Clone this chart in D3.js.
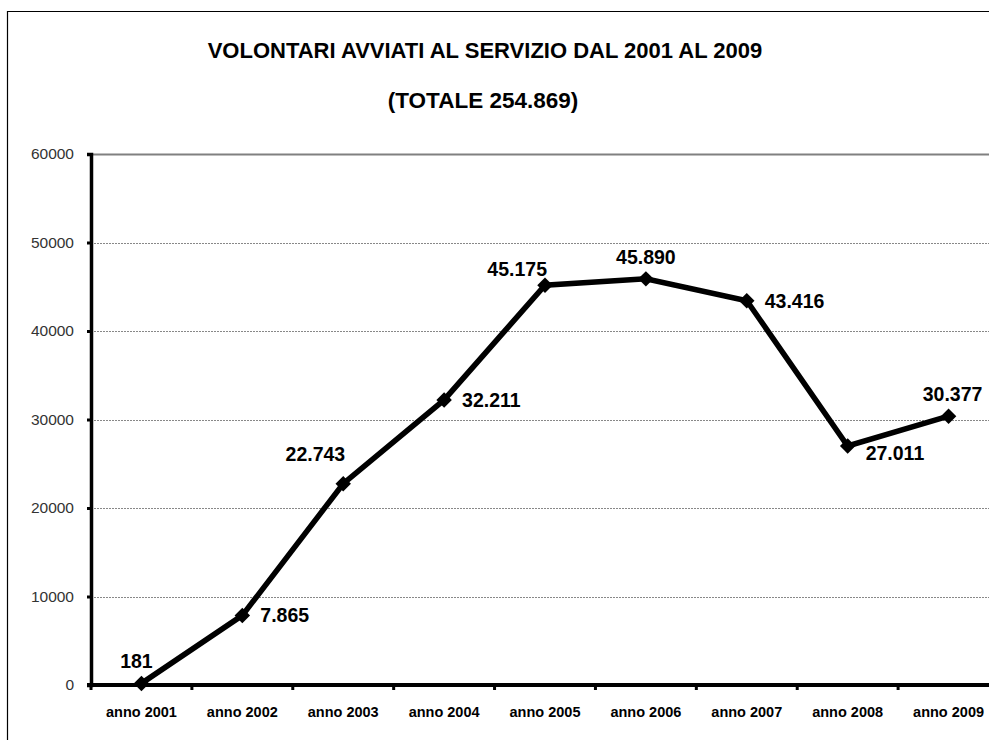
<!DOCTYPE html>
<html>
<head>
<meta charset="utf-8">
<script src="https://cdn.jsdelivr.net/npm/d3@7"></script>
<style>
  body { margin: 0; background: #fff; }
  svg { display: block; font-family: "Liberation Sans", Arial, sans-serif; }
</style>
</head>
<body>
<svg width="989" height="740"></svg>
<script>
// data
const years = ["anno 2001","anno 2002","anno 2003","anno 2004","anno 2005","anno 2006","anno 2007","anno 2008","anno 2009"];
const volontari = [181, 7865, 22743, 32211, 45175, 45890, 43416, 27011, 30377];
const valueLabels = ["181","7.865","22.743","32.211","45.175","45.890","43.416","27.011","30.377"];
const labelSide = ["above","right","aboveLeft","right","aboveLeft","above","right","belowRight","above"];
const yTicks = [0, 10000, 20000, 30000, 40000, 50000, 60000];
const title = "VOLONTARI AVVIATI AL SERVIZIO DAL 2001 AL 2009";
const subtitle = "(TOTALE 254.869)";

const svg = d3.select('svg');
const plot = {left: 91, right: 999, top: 154, bottom: 685};

// outer frame (only top and left visible in the crop)
svg.append('path')
  .attr('d', `M7.5,740 V11.5 H989`)
  .attr('fill', 'none').attr('stroke', '#000').attr('stroke-width', 1.2);

svg.append('text').attr('x', 485).attr('y', 58)
  .attr('text-anchor', 'middle').style('font-size', '22px').style('font-weight', 'bold')
  .text(title);
svg.append('text').attr('x', 483).attr('y', 108)
  .attr('text-anchor', 'middle').style('font-size', '22.5px').style('font-weight', 'bold')
  .text(subtitle);

const x = d3.scaleBand().domain(years).range([plot.left, plot.right]).padding(0);
const y = d3.scaleLinear().domain([0, 60000]).range([plot.bottom, plot.top]);
const cx = d => x(d) + x.bandwidth() / 2;

// gridlines
svg.append('g').selectAll('line')
  .data(yTicks.filter(t => t > 0))
  .join('line')
  .attr('x1', plot.left).attr('x2', 989)
  .attr('y1', d => Math.round(y(d)) + 0.5).attr('y2', d => Math.round(y(d)) + 0.5)
  .attr('stroke', d => d === 60000 ? '#808080' : '#888')
  .attr('stroke-width', d => d === 60000 ? 2 : 1)
  .attr('stroke-dasharray', d => d === 60000 ? null : '2,1');

// y axis
const yAxis = svg.append('g')
  .attr('transform', `translate(${plot.left},0)`)
  .call(d3.axisLeft(y).tickValues(yTicks).tickSize(4).tickPadding(13).tickFormat(d3.format('d')));
yAxis.select('.domain').attr('stroke', '#000').attr('stroke-width', 3.5);
yAxis.selectAll('.tick line').attr('stroke', '#000').attr('stroke-width', 3);
yAxis.selectAll('.tick text').style('font-size', '15.5px').style('font-family', '"Liberation Sans", Arial, sans-serif').attr('fill', '#333');

// x axis (ticks at category boundaries)
svg.append('line')
  .attr('x1', plot.left - 4).attr('x2', 989)
  .attr('y1', plot.bottom).attr('y2', plot.bottom)
  .attr('stroke', '#000').attr('stroke-width', 4);
svg.append('g').selectAll('line')
  .data(years)
  .join('line')
  .attr('x1', d => x(d)).attr('x2', d => x(d))
  .attr('y1', plot.bottom).attr('y2', plot.bottom + 5)
  .attr('stroke', '#000').attr('stroke-width', 3);
svg.append('g').selectAll('text')
  .data(years)
  .join('text')
  .attr('x', d => cx(d)).attr('y', 717)
  .attr('text-anchor', 'middle')
  .style('font-size', '14.5px').style('font-weight', 'bold')
  .text(d => d);

// line
const pts = years.map((d, i) => ({year: d, v: volontari[i], label: valueLabels[i], side: labelSide[i]}));
svg.append('path')
  .datum(pts)
  .attr('fill', 'none').attr('stroke', '#000').attr('stroke-width', 5.5)
  .attr('stroke-linejoin', 'miter')
  .attr('d', d3.line().x(d => cx(d.year)).y(d => y(d.v)));

svg.append('g').selectAll('path')
  .data(pts)
  .join('path')
  .attr('transform', d => `translate(${cx(d.year)},${y(d.v)}) rotate(45)`)
  .attr('d', d3.symbol(d3.symbolSquare, 120))
  .attr('fill', '#000');

// value labels
const offsets = {
  above: {dx: 0, dy: -15, anchor: 'middle'},
  right: {dx: 18, dy: 7, anchor: 'start'},
  aboveLeft: {dx: 2, dy: -9, anchor: 'end'},
  belowRight: {dx: 18, dy: 14, anchor: 'start'}
};
svg.append('g').selectAll('text')
  .data(pts)
  .join('text')
  .attr('x', (d, i) => cx(d.year) + offsets[d.side].dx + (i === 0 ? -5 : 0) + (i === 8 ? 4 : 0))
  .attr('y', (d, i) => y(d.v) + offsets[d.side].dy + (i === 2 ? -14 : 0))
  .attr('text-anchor', d => offsets[d.side].anchor)
  .style('font-size', '19.5px').style('font-weight', 'bold')
  .text(d => d.label);
</script>
</body>
</html>
